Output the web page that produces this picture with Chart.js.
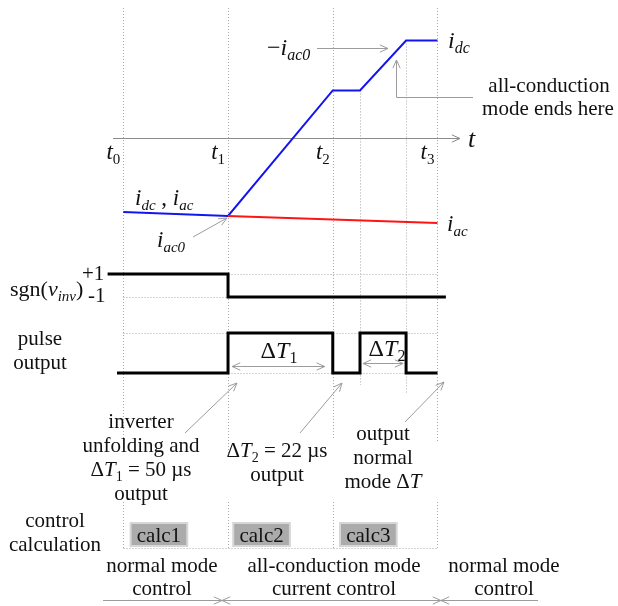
<!DOCTYPE html>
<html>
<head>
<meta charset="utf-8">
<script src="https://cdn.jsdelivr.net/npm/chart.js@4/dist/chart.umd.min.js"></script>
<style>
  html, body { margin: 0; padding: 0; background: #fff; }
  #wrap { width: 618px; height: 606px; }
</style>
</head>
<body>
<div id="wrap"><canvas id="c" width="618" height="606"></canvas></div>
<script>
// ---- timing (µs, t1 = 0) ----
const instantNames = ['0', '1', '2', '3'];          // subscripts of t0..t3
const instantTimes = [-50, 0, 50, 100];             // ΔT1 = 50 µs, t3 - t1 = 2ΔT1
const pulse2Times  = [63, 85];                      // ΔT2 = 22 µs

// ---- currents (per unit of |i_ac0|) ----
const idcTimes  = [-50, 0, 50, 63, 85, 100];
const idcValues = [-0.95, -1.0, 0.61, 0.61, 1.25, 1.25];
const iacTimes  = [0, 100];
const iacValues = [-1.0, -1.09];

// ---- sign of inverter voltage ----
const sgnTimes  = [-57.5, 0, 104];
const sgnValues = [1, -1, -1];

// ---- pulse output ----
const pulseTimes  = [-53, 0, 50, 63, 85, 100];
const pulseValues = [0, 1, 0, 1, 0, 0];

// ---- control calculation slots ----
const calcLabels   = ['calc1', 'calc2', 'calc3'];
const calcStarts   = [-47, 2, 53];
const calcDuration = 28;

const W = 618, H = 606;
const SERIF = "'Liberation Serif','Times New Roman',serif";
const GREY = '#9c9c9c';

// value <-> pixel ranges for the hidden axes
function vRange(v1, p1, v2, p2) {          // vertical: larger value higher up
  const k = (p2 - p1) / (v1 - v2);
  return { min: v1 - (H - p1) / k, max: v1 + p1 / k };
}
function hRange(v1, p1, v2, p2) {          // horizontal
  const k = (p2 - p1) / (v2 - v1);
  return { min: v1 - p1 / k, max: v1 + (W - p1) / k };
}
const xR  = hRange(-50, 123.3, 100, 437.5);
const iR  = vRange(0, 138, -1, 216);
const sR  = vRange(1, 274, -1, 297);
const pR  = vRange(1, 333, 0, 373);

const pts = (xs, ys) => xs.map((x, i) => ({ x, y: ys[i] }));

function richText(ctx, x, y, parts, size, align) {
  const segs = parts.map(([s, st]) => {
    const sub = st === 's' || st === 'sn';
    const italic = st === 'i' || st === 's';
    const fs = sub ? Math.round(size * 0.66) : size;
    const font = (italic ? 'italic ' : '') + fs + 'px ' + SERIF;
    ctx.font = font;
    return { s, font, w: ctx.measureText(s).width, dy: sub ? size * 0.22 : 0 };
  });
  const total = segs.reduce((a, g) => a + g.w, 0);
  let cx = align === 'center' ? x - total / 2 : align === 'right' ? x - total : x;
  ctx.textAlign = 'left';
  ctx.textBaseline = 'alphabetic';
  for (const g of segs) { ctx.font = g.font; ctx.fillText(g.s, cx, y + g.dy); cx += g.w; }
}
function plain(ctx, x, y, s, size, align) { richText(ctx, x, y, [[s, 'n']], size, align || 'center'); }

function head(ctx, x, y, ang, len) {
  len = len || 9;
  const sp = 0.42;
  ctx.beginPath();
  ctx.moveTo(x - len * Math.cos(ang - sp), y - len * Math.sin(ang - sp));
  ctx.lineTo(x, y);
  ctx.lineTo(x - len * Math.cos(ang + sp), y - len * Math.sin(ang + sp));
  ctx.stroke();
}
function arrow(ctx, x1, y1, x2, y2, startHead, endHead) {
  ctx.beginPath(); ctx.moveTo(x1, y1); ctx.lineTo(x2, y2); ctx.stroke();
  const a = Math.atan2(y2 - y1, x2 - x1);
  if (endHead) head(ctx, x2, y2, a);
  if (startHead) head(ctx, x1, y1, a + Math.PI);
}
function dotted(ctx, x1, y1, x2, y2) {
  ctx.save();
  ctx.setLineDash([1, 2]);
  ctx.strokeStyle = '#a8a8a8';
  ctx.lineWidth = 1;
  ctx.beginPath(); ctx.moveTo(x1, y1); ctx.lineTo(x2, y2); ctx.stroke();
  ctx.restore();
}

const decor = {
  id: 'decor',
  beforeDatasetsDraw(chart) {
    const ctx = chart.ctx, s = chart.scales;
    const X = t => Math.round(s.x.getPixelForValue(t)) + 0.5;
    const YI = v => s.yI.getPixelForValue(v);
    const YS = v => Math.round(s.yS.getPixelForValue(v)) + 0.5;
    const YP = v => Math.round(s.yP.getPixelForValue(v)) + 0.5;
    ctx.save();
    // vertical guides at t0..t3
    const ends = [450, 457, 440, 443];
    instantTimes.forEach((t, i) => dotted(ctx, X(t), 8, X(t), ends[i]));
    // guides at the ΔT2 pulse edges
    dotted(ctx, X(pulse2Times[0]), YI(idcValues[3]), X(pulse2Times[0]), 385);
    dotted(ctx, X(pulse2Times[1]), YI(idcValues[4]), X(pulse2Times[1]), 393);
    // level guides
    dotted(ctx, X(instantTimes[0]), YS(-1), X(instantTimes[1]), YS(-1));
    dotted(ctx, X(instantTimes[1]), YS(1), X(instantTimes[3]), YS(1));
    dotted(ctx, X(instantTimes[0]), YP(1), X(instantTimes[3]), YP(1));
    dotted(ctx, X(instantTimes[0]), YP(0), X(instantTimes[3]), YP(0));
    // calculation frame
    instantTimes.forEach(t => dotted(ctx, X(t), 502, X(t), 548.5));
    dotted(ctx, X(instantTimes[0]), 548.5, X(instantTimes[3]), 548.5);
    // calculation slots
    calcLabels.forEach((lab, i) => {
      const x1 = s.x.getPixelForValue(calcStarts[i]);
      const x2 = s.x.getPixelForValue(calcStarts[i] + calcDuration);
      ctx.fillStyle = '#d6d6d6';
      ctx.fillRect(x1, 522, x2 - x1, 25);
      ctx.fillStyle = '#ababab';
      ctx.fillRect(x1 + 2, 524, x2 - x1 - 4, 21);
      ctx.fillStyle = '#111';
      plain(ctx, (x1 + x2) / 2, 542, lab, 21);
    });
    // time axis
    ctx.strokeStyle = '#8c8c8c';
    ctx.lineWidth = 1;
    const y0 = Math.round(YI(0)) + 0.5;
    arrow(ctx, 113, y0, 460, y0, false, true);
    ctx.restore();
  },
  afterDatasetsDraw(chart) {
    const ctx = chart.ctx, s = chart.scales;
    const X = t => s.x.getPixelForValue(t);
    ctx.save();
    ctx.fillStyle = '#111';
    // time instants
    instantTimes.forEach((t, i) => richText(ctx, X(t) - 3, 159, [['t', 'i'], [instantNames[i], 'sn']], 23, 'right'));
    richText(ctx, 468, 147, [['t', 'i']], 26, 'left');
    // current labels
    richText(ctx, 267, 55, [['\u2212', 'n'], ['i', 'i'], ['ac0', 's']], 24, 'left');
    richText(ctx, 448, 48, [['i', 'i'], ['dc', 's']], 24, 'left');
    richText(ctx, 135, 205, [['i', 'i'], ['dc', 's'], [' , ', 'n'], ['i', 'i'], ['ac', 's']], 23, 'left');
    richText(ctx, 157, 247, [['i', 'i'], ['ac0', 's']], 23, 'left');
    richText(ctx, 447, 231, [['i', 'i'], ['ac', 's']], 23, 'left');
    plain(ctx, 549, 92, 'all-conduction', 21);
    plain(ctx, 548, 115, 'mode ends here', 21);
    // signal names
    richText(ctx, 10, 296, [['sgn(', 'n'], ['v', 'i'], ['inv', 's'], [')', 'n']], 22, 'left');
    plain(ctx, 82, 280, '+1', 21, 'left');
    plain(ctx, 88, 302, '-1', 21, 'left');
    plain(ctx, 40, 345, 'pulse', 21);
    plain(ctx, 40, 369, 'output', 21);
    richText(ctx, 279, 358, [['\u0394', 'n'], ['T', 'i'], ['1', 'sn']], 24, 'center');
    richText(ctx, 387, 356, [['\u0394', 'n'], ['T', 'i'], ['2', 'sn']], 24, 'center');
    // notes
    plain(ctx, 141, 428, 'inverter', 21);
    plain(ctx, 141, 452, 'unfolding and', 21);
    richText(ctx, 141, 476, [['\u0394', 'n'], ['T', 'i'], ['1', 'sn'], [' = 50 \u00b5s', 'n']], 21, 'center');
    plain(ctx, 141, 500, 'output', 21);
    richText(ctx, 277, 457, [['\u0394', 'n'], ['T', 'i'], ['2', 'sn'], [' = 22 \u00b5s', 'n']], 21, 'center');
    plain(ctx, 277, 481, 'output', 21);
    plain(ctx, 383, 440, 'output', 21);
    plain(ctx, 383, 464, 'normal', 21);
    richText(ctx, 383, 488, [['mode \u0394', 'n'], ['T', 'i']], 21, 'center');
    plain(ctx, 55, 527, 'control', 21);
    plain(ctx, 55, 551, 'calculation', 21);
    plain(ctx, 162, 572, 'normal mode', 21);
    plain(ctx, 162, 595, 'control', 21);
    plain(ctx, 334, 572, 'all-conduction mode', 21);
    plain(ctx, 334, 595, 'current control', 21);
    plain(ctx, 504, 572, 'normal mode', 21);
    plain(ctx, 504, 595, 'control', 21);
    // arrows
    ctx.strokeStyle = GREY;
    ctx.lineWidth = 1;
    arrow(ctx, 317, 48.5, 388, 48.5, false, true);
    ctx.beginPath(); ctx.moveTo(473, 97.5); ctx.lineTo(396.5, 97.5); ctx.lineTo(396.5, 60); ctx.stroke();
    head(ctx, 396.5, 60, -Math.PI / 2);
    arrow(ctx, 193, 237, 227, 218, false, true);
    arrow(ctx, X(instantTimes[1]) + 4, 366.5, X(instantTimes[2]) - 8, 366.5, true, true);
    arrow(ctx, X(pulse2Times[0]) + 3, 363.5, X(pulse2Times[1]) - 3, 363.5, true, true);
    arrow(ctx, 185, 433, 237, 383, false, true);
    arrow(ctx, 300, 433, 342, 383, false, true);
    arrow(ctx, 405, 422, 444, 382, false, true);
    // mode spans
    arrow(ctx, 103, 600.5, 222, 600.5, false, true);
    arrow(ctx, 222, 600.5, 441, 600.5, true, true);
    arrow(ctx, 441, 600.5, 538, 600.5, true, false);
    ctx.restore();
  }
};

new Chart(document.getElementById('c'), {
  type: 'scatter',
  data: {
    datasets: [
      { label: 'i_ac', data: pts(iacTimes, iacValues), yAxisID: 'yI', showLine: true,
        borderColor: '#ff1414', borderWidth: 2, pointRadius: 0 },
      { label: 'i_dc', data: pts(idcTimes, idcValues), yAxisID: 'yI', showLine: true,
        borderColor: '#1414f0', borderWidth: 2, pointRadius: 0 },
      { label: 'sgn(v_inv)', data: pts(sgnTimes, sgnValues), yAxisID: 'yS', showLine: true, stepped: true,
        borderColor: '#000', borderWidth: 3, pointRadius: 0, borderJoinStyle: 'miter' },
      { label: 'pulse output', data: pts(pulseTimes, pulseValues), yAxisID: 'yP', showLine: true, stepped: true,
        borderColor: '#000', borderWidth: 3, pointRadius: 0, borderJoinStyle: 'miter' }
    ]
  },
  options: {
    responsive: false,
    animation: false,
    devicePixelRatio: 1,
    layout: { padding: 0 },
    plugins: { legend: { display: false }, tooltip: { enabled: false } },
    scales: {
      x:  { type: 'linear', display: false, min: xR.min, max: xR.max },
      yI: { type: 'linear', display: false, min: iR.min, max: iR.max },
      yS: { type: 'linear', display: false, min: sR.min, max: sR.max },
      yP: { type: 'linear', display: false, min: pR.min, max: pR.max }
    }
  },
  plugins: [decor]
});
</script>
</body>
</html>
